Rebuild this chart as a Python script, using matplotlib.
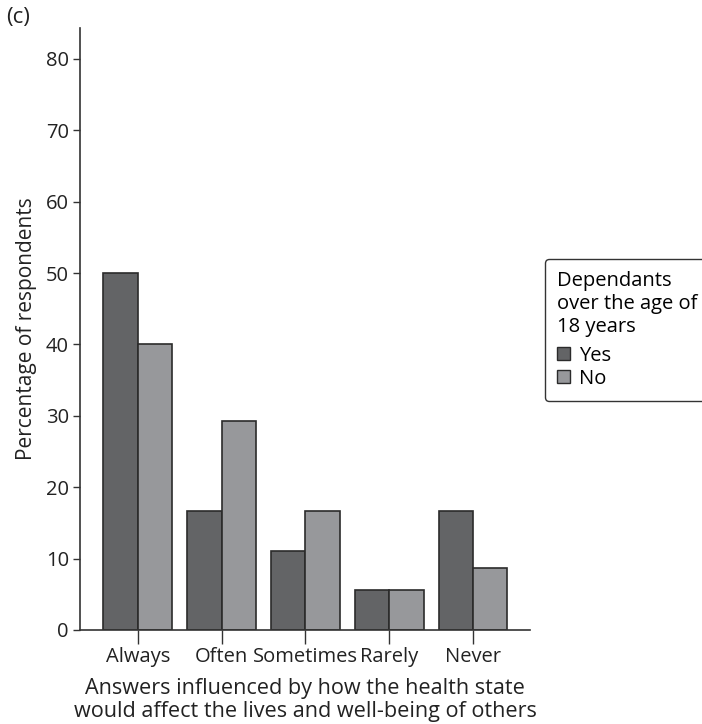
import numpy as np
import matplotlib.pyplot as plt
from matplotlib.patches import Patch

plt.rcParams['font.family'] = ['Open Sans', 'DejaVu Sans']

categories = ["Always", "Often", "Sometimes", "Rarely", "Never"]
yes_vals = [50.0, 16.7, 11.1, 5.6, 16.7]
no_vals = [40.0, 29.2, 16.7, 5.6, 8.7]

dark = "#636466"
light = "#97989b"
edge = "#2b2b2b"
fs = 14.5

fig = plt.figure(figsize=(7.02, 7.24), dpi=100)
ax = fig.add_axes([0.114, 0.130, 0.641, 0.831])

x = np.arange(len(categories))
w = 0.41
ax.bar(x - w / 2, yes_vals, w, color=dark, edgecolor=edge, linewidth=1.2)
ax.bar(x + w / 2, no_vals, w, color=light, edgecolor=edge, linewidth=1.2)

ax.set_xlim(-0.69, 4.68)
ax.set_ylim(0, 84.3)
ax.set_yticks(range(0, 81, 10))
ax.set_xticks(x)
ax.set_xticklabels(categories)
for s in ["top", "right"]:
    ax.spines[s].set_visible(False)
for s in ["left", "bottom"]:
    ax.spines[s].set_color("#333333")
    ax.spines[s].set_linewidth(1.2)
ax.tick_params(axis="y", length=5, width=1, colors="#333333", labelsize=fs, labelcolor="#222222", pad=3)
ax.tick_params(axis="x", length=10, width=1, colors="#333333", labelsize=fs, labelcolor="#222222", pad=2)

ax.set_ylabel("Percentage of respondents", fontsize=15, color="#222222", labelpad=6)
ax.set_xlabel("Answers influenced by how the health state\nwould affect the lives and well-being of others",
              fontsize=15.6, color="#222222", labelpad=8, linespacing=1.12)

fig.text(0.009, 0.99, "(c)", fontsize=16, va="top", color="#222222")

handles = [Patch(facecolor=dark, edgecolor=edge, label="Yes"),
           Patch(facecolor=light, edgecolor=edge, label="No")]
leg = fig.legend(handles=handles, title="Dependants\nover the age of\n18 years",
                 loc="upper left", bbox_to_anchor=(0.776, 0.642), borderaxespad=0,
                 fontsize=fs, title_fontsize=fs, frameon=True, fancybox=True,
                 handlelength=0.65, handleheight=0.65, handletextpad=0.45,
                 labelspacing=0.15, borderpad=0.6, alignment="left")
leg.get_title().set_linespacing(1.2)
leg._legend_box.sep = 6
leg.get_frame().set_edgecolor("#333333")
leg.get_frame().set_linewidth(1.0)
leg.get_frame().set_alpha(1)

fig.savefig("out.png", dpi=100)
